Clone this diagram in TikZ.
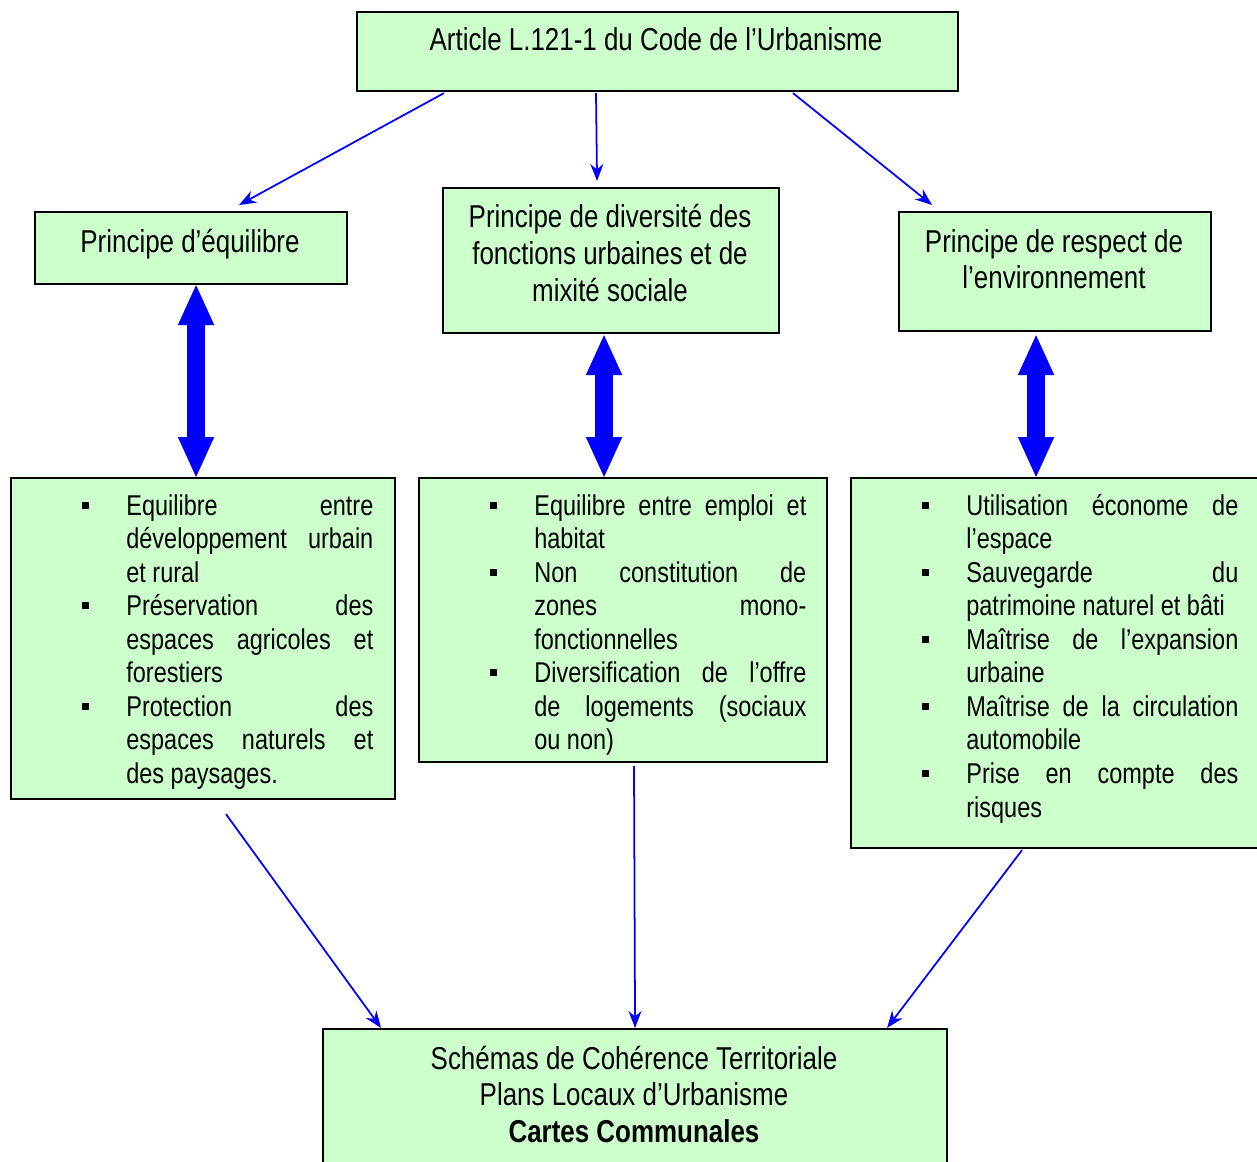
\documentclass[tikz,border=0pt]{standalone}
\usepackage{fontspec}
\setmainfont{Liberation Sans}[FakeStretch=0.82]
\usetikzlibrary{arrows.meta,calc}
\definecolor{vertpale}{HTML}{CCFFCC}
\definecolor{bleu}{HTML}{0000FF}
% puce carree et lignes justifiees
\newcommand{\puce}{\llap{\rule[1.3mm]{1.4mm}{1.4mm}\hskip7.5mm}}
\newcommand{\lj}[1]{\hbox to\hsize{#1}}
\newcommand{\ld}[1]{\hbox to\hsize{#1\hfil}}
\newcommand{\centre}[1]{\begin{tabular}[t]{@{}c@{}}#1\end{tabular}}
\tikzset{
  cadre/.style={draw=black, line width=1.2pt, fill=vertpale, inner sep=0pt, anchor=north west},
  titre/.style={anchor=base, inner sep=0pt, font=\fontsize{18}{21}\selectfont},
  liste/.style={anchor=base west, inner sep=0pt, font=\fontsize{16.3}{19.1}\selectfont},
  fleche/.style={draw=bleu, line width=1pt, -{Stealth[length=3.4mm,width=2.6mm]}},
  grosse/.style={draw=bleu, line width=3.7mm,
    {Triangle[length=8mm,width=7.3mm,line width=0pt]}-{Triangle[length=8mm,width=7.3mm,line width=0pt]}}
}
\begin{document}
\begin{tikzpicture}[x=0.2mm, y=-0.2mm]
\useasboundingbox (0,0) rectangle (1257,1162);
\clip (0,0) rectangle (1257,1162);
% cadres
\node[cadre, minimum width=120.2mm, minimum height=15.8mm] (top) at (356,11) {};
\node[cadre, minimum width=62.4mm, minimum height=14.4mm] (eq) at (34,211) {};
\node[cadre, minimum width=67.2mm, minimum height=29mm] (div) at (442,187) {};
\node[cadre, minimum width=62.4mm, minimum height=23.8mm] (env) at (898,211) {};
\node[cadre, minimum width=76.8mm, minimum height=64.2mm] (eqlist) at (10,477) {};
\node[cadre, minimum width=81.6mm, minimum height=56.8mm] (divlist) at (418,477) {};
\node[cadre, minimum width=84mm, minimum height=74mm] (envlist) at (850,477) {};
\node[cadre, minimum width=124.8mm, minimum height=30mm] (bot) at (322,1028) {};
% textes
\node[titre] (toptxt) at (656,51) {Article L.121-1 du Code de l’Urbanisme};
\node[titre] (eqtxt) at (190,252) {Principe d’équilibre};
\node[titre] (divtxt) at (610,228) {\centre{Principe de diversité des\\ fonctions urbaines et de\\ mixité sociale}};
\node[titre] (envtxt) at (1054,252) {\centre{Principe de respect de\\ l’environnement}};
\node[titre] (bottxt) at (634,1069) {\centre{Schémas de Cohérence Territoriale\\ Plans Locaux d’Urbanisme\\ \textbf{Cartes Communales}}};
\node[liste] (eqitems) at (126,515) {\vtop{\hsize=49.4mm
  \lj{\puce Equilibre entre}
  \lj{développement urbain}
  \ld{et rural}
  \lj{\puce Préservation des}
  \lj{espaces agricoles et}
  \ld{forestiers}
  \lj{\puce Protection des}
  \lj{espaces naturels et}
  \ld{des paysages.}}};
\node[liste] (divitems) at (534,515) {\vtop{\hsize=54.4mm
  \lj{\puce Equilibre entre emploi et}
  \ld{habitat}
  \lj{\puce Non constitution de}
  \lj{zones mono-}
  \ld{fonctionnelles}
  \lj{\puce Diversification de l’offre}
  \lj{de logements (sociaux}
  \ld{ou non)}}};
\node[liste] (envitems) at (966,515) {\vtop{\hsize=54.4mm
  \lj{\puce Utilisation économe de}
  \ld{l’espace}
  \lj{\puce Sauvegarde du}
  \ld{patrimoine naturel et bâti}
  \lj{\puce Maîtrise de l’expansion}
  \ld{urbaine}
  \lj{\puce Maîtrise de la circulation}
  \ld{automobile}
  \lj{\puce Prise en compte des}
  \ld{risques}}};
% fleches fines
\draw[fleche] ($(top.south west)+(88,1)$) -- ($(eq.north)+(48,-6)$);
\draw[fleche] ($(top.south west)+(240,1)$) -- ($(div.north)+(-14,-6)$);
\draw[fleche] ($(top.south west)+(437,1)$) -- ($(env.north)+(-123,-6)$);
\draw[fleche] ($(eqlist.south west)+(216,14)$) -- ($(bot.north)+(-254,0)$);
\draw[fleche] ($(divlist.south west)+(216,3)$) -- (bot.north);
\draw[fleche] ($(envlist.south west)+(172,1)$) -- ($(bot.north)+(252,0)$);
% grosses fleches
\coordinate (a1) at ($(eq.south)+(5,0)$);
\coordinate (a2) at ($(div.south)+(-7,1)$);
\coordinate (a3) at ($(env.south)+(-19,3)$);
\draw[grosse] (a1) -- (a1 |- eqlist.north);
\draw[grosse] (a2) -- (a2 |- divlist.north);
\draw[grosse] (a3) -- (a3 |- envlist.north);
\end{tikzpicture}
\end{document}
